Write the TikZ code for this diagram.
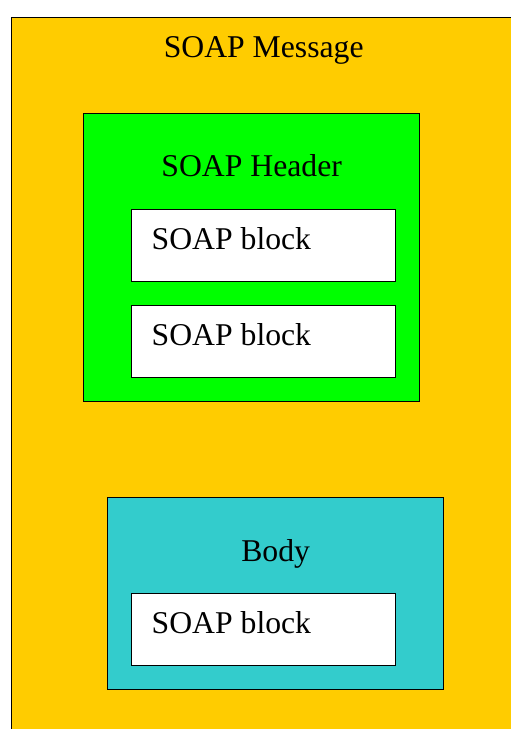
\documentclass[tikz,border=0pt]{standalone}
\usepackage{fontspec}
\setmainfont{Liberation Serif}
\usetikzlibrary{positioning}
\definecolor{msgyellow}{HTML}{FFCC00}
\definecolor{hdrgreen}{HTML}{00FF00}
\definecolor{bodyteal}{HTML}{33CCCC}

\begin{document}
\begin{tikzpicture}[x=1pt, y=-1pt, line width=1.4pt,
    box/.style={draw, rectangle, inner sep=0pt, anchor=north west},
    block/.style={box, fill=white, minimum width=264pt, minimum height=72pt},
    lbl/.style={font=\fontsize{31.7}{38}\selectfont, inner sep=0pt}]
    \useasboundingbox (0,0) rectangle (511,729);
    \clip (0,0) rectangle (511,729);
    % boxes
    \node[box, fill=msgyellow, minimum width=504pt, minimum height=730pt] (msg) at (11,17) {};
    \node[box, fill=hdrgreen, minimum width=336pt, minimum height=288pt] (hdr) at (83,113) {};
    \node[block] (blk1) at (131,209) {};
    \node[block] (blk2) at (131,305) {};
    \node[box, fill=bodyteal, minimum width=336pt, minimum height=192pt] (body) at (107,497) {};
    \node[block] (blk3) at (131,593) {};
    % labels
    \node[lbl, below=40pt of msg.north, anchor=base] (msgtxt) {SOAP Message};
    \node[lbl, below=63pt of hdr.north, anchor=base] (hdrtxt) {SOAP Header};
    \node[lbl, below=64pt of body.north, anchor=base] (bodytxt) {Body};
    \node[lbl, below right=40pt and 20pt of blk1.north west, anchor=base west] (blk1txt) {SOAP block};
    \node[lbl, below right=40pt and 20pt of blk2.north west, anchor=base west] (blk2txt) {SOAP block};
    \node[lbl, below right=40pt and 20pt of blk3.north west, anchor=base west] (blk3txt) {SOAP block};
\end{tikzpicture}
\end{document}
